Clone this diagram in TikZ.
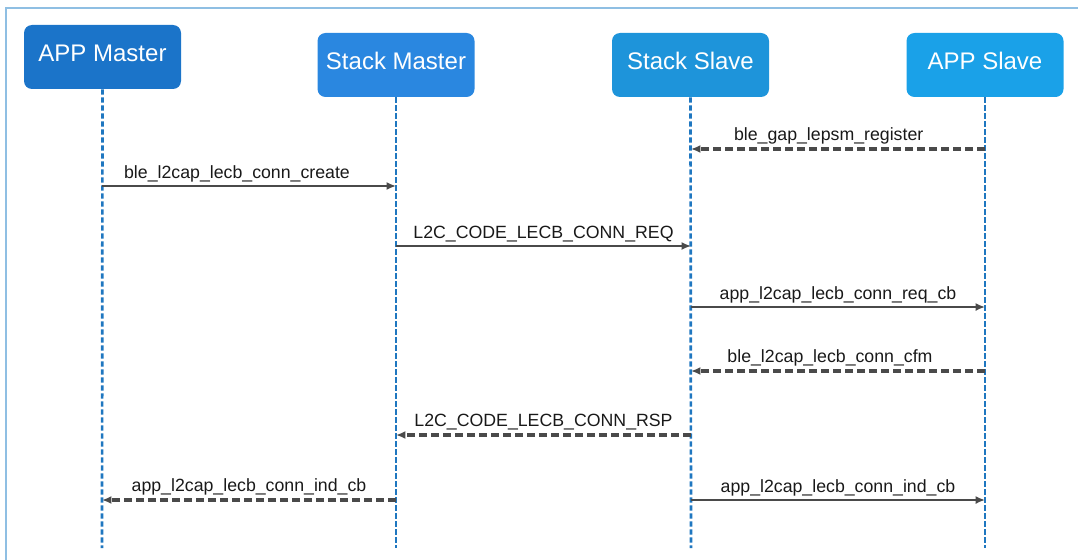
\documentclass[tikz,border=0pt]{standalone}
\usepackage{fontspec}
\setmainfont{Liberation Sans}
\usetikzlibrary{arrows.meta}
\definecolor{boxA}{HTML}{1B74C9}
\definecolor{boxB}{HTML}{2A87E0}
\definecolor{boxC}{HTML}{1E94DA}
\definecolor{boxD}{HTML}{1AA1E8}
\definecolor{lifeblue}{HTML}{1F77C0}
\definecolor{framecol}{HTML}{8FBFE3}
\definecolor{msgcol}{HTML}{4A4A4A}

\begin{document}
\begin{tikzpicture}[x=0.75pt,y=-0.75pt,
  actor/.style={rectangle,rounded corners=6pt,minimum width=117.75pt,minimum height=48pt,text depth=6pt,text=white,font=\fontsize{18}{20}\selectfont},
  life/.style={lifeblue,line width=2pt,dash pattern=on 4pt off 2pt},
  call/.style={msgcol,line width=1.3pt,-{Latex[length=7pt,width=6pt]}},
  reply/.style={msgcol,line width=2.6pt,dash pattern=on 6pt off 3pt,-{Latex[length=7pt,width=6pt]}},
  lbl/.style={above=-1pt,text=black!90,font=\fontsize{13.3}{15}\selectfont}]
\useasboundingbox (0,0) rectangle (1078,560);
\draw[framecol,line width=2pt] (6,560) -- (6,8) -- (1078,8);
\node[actor,fill=boxA] (am) at (102.5,57)  {APP Master};
\node[actor,fill=boxB] (sm) at (396,65)  {Stack Master};
\node[actor,fill=boxC] (ss) at (690.5,65)  {Stack Slave};
\node[actor,fill=boxD] (as) at (985,65)  {APP Slave};
%-------------
\coordinate (amb) at (102,548);
\coordinate (smb) at (396,548);
\coordinate (ssb) at (691,548);
\coordinate (asb) at (985,548);
\foreach \top/\bot in {am/amb,sm/smb,ss/ssb,as/asb}
\draw[life] (\top.south) -- (\bot);
%------------
\draw[reply] (asb |- 0,149) -- node[lbl,xshift=-7pt] {ble\_gap\_lepsm\_register} (ssb |- 0,149);
\draw[call] (amb |- 0,186) -- node[lbl,xshift=-9pt] {ble\_l2cap\_lecb\_conn\_create} (smb |- 0,186);
\draw[call] (smb |- 0,246) -- node[lbl] {L2C\_CODE\_LECB\_CONN\_REQ} (ssb |- 0,246);
\draw[call] (ssb |- 0,307) -- node[lbl] {app\_l2cap\_lecb\_conn\_req\_cb} (asb |- 0,307);
\draw[reply] (asb |- 0,371) -- node[lbl,xshift=-6pt] {ble\_l2cap\_lecb\_conn\_cfm} (ssb |- 0,371);
\draw[reply] (ssb |- 0,435) -- node[lbl] {L2C\_CODE\_LECB\_CONN\_RSP} (smb |- 0,435);
\draw[reply] (smb |- 0,500) -- node[lbl] {app\_l2cap\_lecb\_conn\_ind\_cb} (amb |- 0,500);
\draw[call] (ssb |- 0,500) -- node[lbl] {app\_l2cap\_lecb\_conn\_ind\_cb} (asb |- 0,500);
\end{tikzpicture}
\end{document}
